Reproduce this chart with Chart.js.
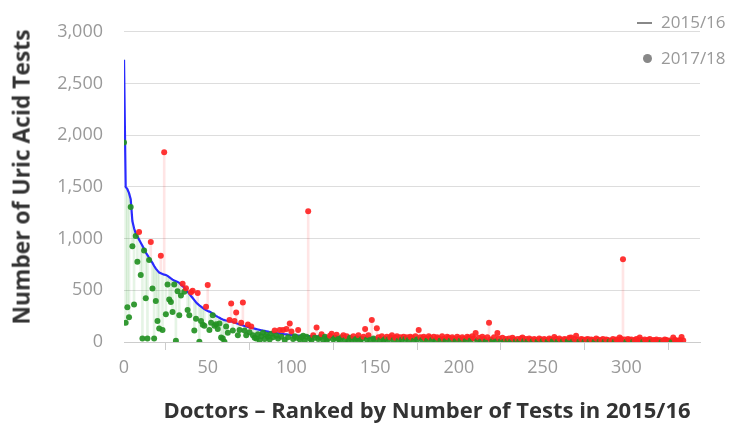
<!DOCTYPE html>
<html>
<head>
<meta charset="utf-8">
<script src="https://cdn.jsdelivr.net/npm/chart.js@4"></script>
<style>
html,body{margin:0;padding:0;background:#fff;}
#wrap{position:relative;width:748px;height:423px;}
#legend{position:absolute;left:0;top:0;font-family:'Open Sans',sans-serif;font-size:17px;color:#999;}
.dash{position:absolute;width:15px;height:2px;background:#888;}
.dot{position:absolute;width:9px;height:9px;border-radius:50%;background:#888;}
.lbl{position:absolute;line-height:24px;white-space:nowrap;}
.title{position:absolute;font-family:'Open Sans',sans-serif;font-weight:bold;color:#333;white-space:nowrap;line-height:1;}
#xt{left:427px;top:409px;font-size:22px;transform:translate(-50%,-50%);}
#yt{left:22px;top:177px;font-size:22.8px;transform:translate(-50%,-50%) rotate(-90deg);}
</style>
</head>
<body>
<div id="wrap">
<canvas id="c" width="748" height="423"></canvas>
<div id="legend"></div>
<div class="title" id="xt"></div>
<div class="title" id="yt"></div>
</div>
<script>
// ---- data ----
const seriesLabels = ['2015/16', '2017/18'];
const xTitle = 'Doctors \u2013 Ranked by Number of Tests in 2015/16';
const yTitle = 'Number of Uric Acid Tests';
const yTickStep = 500;
const xTickStep = 50;

// Tests per doctor in 2015/16 (doctors ranked by this value)
const tests2015 = [
2730,1500,1480,1440,1380,1170,1100,1050,1020,990,
960,930,900,865,840,815,790,765,735,710,
690,672,665,658,652,648,640,628,615,603,
595,588,580,572,555,540,526,505,485,465,
445,425,405,385,368,355,343,330,318,308,
300,294,285,275,262,252,243,235,225,218,
212,208,205,202,198,193,188,182,176,170,
165,160,155,150,145,141,137,133,129,125,
121,117,114,110,107,104,100,96,93,90,
88,85,83,81,79,77,75,73,71,69,
67,66,65,64,63,62,61,60,59,58,
57,57,56,56,55,55,54,54,53,53,
52,52,51,51,50,50,49,49,48,48,
47,47,46,46,45,45,44,44,43,43,
42,42,41,41,41,40,40,40,39,39,
39,38,38,38,37,37,37,36,36,36,
35,35,35,34,34,34,33,33,33,32,
32,32,31,31,31,30,30,30,29,29,
29,28,28,28,27,27,27,26,26,26,
25,25,25,25,24,24,24,24,23,23,
23,23,22,22,22,22,21,21,21,21,
20,20,20,20,19,19,19,19,18,18,
18,18,18,17,17,17,17,17,16,16,
16,16,16,15,15,15,15,15,14,14,
14,14,14,14,13,13,13,13,13,13,
12,12,12,12,12,12,11,11,11,11,
11,11,10,10,10,10,10,10,9,9,
9,9,9,9,9,8,8,8,8,8,
8,8,7,7,7,7,7,7,7,6,
6,6,6,6,6,6,5,5,5,5,
5,5,5,5,4,4,4,4,4,4,
4,3,3,3,3,3,3,3,3,2,
2,2,2,2,2,2,2,1,1,1,
1,1,1,1,1
];

// Tests per same doctor in 2017/18
const tests2017 = [
1930,185,337,240,1305,926,363,1025,775,1065,
649,34,886,424,34,794,967,517,34,397,
203,130,834,117,1835,268,557,410,388,289,
557,12,492,258,449,563,486,520,310,258,
480,496,111,224,474,3,203,166,157,342,
551,117,187,258,157,172,126,178,43,34,
3,150,90,212,372,111,203,286,65,117,
187,381,111,65,170,95,150,65,40,34,
75,20,55,90,30,70,50,25,80,45,
111,60,35,117,50,117,20,126,45,178,
102,30,55,40,117,25,45,60,15,50,
1265,35,20,65,40,141,30,45,74,20,
50,10,35,60,80,25,40,71,30,15,
45,65,20,55,10,40,30,55,20,35,
65,15,30,50,126,25,65,20,212,35,
10,132,45,20,55,15,30,50,25,45,
65,20,40,55,15,45,25,50,30,45,
20,50,40,15,55,25,117,45,20,50,
35,15,55,40,20,50,10,45,35,15,
55,30,10,50,40,15,45,30,10,50,
35,15,45,30,10,50,40,15,55,35,
86,10,40,5,50,30,8,45,187,25,
10,45,5,86,35,8,40,5,30,10,
35,5,40,25,8,30,5,35,43,10,
30,5,35,25,8,30,20,5,35,25,
10,30,20,5,35,25,8,49,30,5,
35,20,5,30,25,8,40,43,5,30,
60,20,5,30,25,3,25,30,5,25,
20,3,34,25,5,20,30,3,25,20,
5,15,30,2,25,20,43,30,800,25,
3,30,20,25,2,20,30,15,43,20,
2,25,15,20,30,1,20,15,25,10,
20,1,15,25,20,10,15,0,43,20,
15,10,20,49,15
];

// ---- styles ----
const BLUE = '#2a2aff';
const RED = 'rgba(255,35,35,0.92)';
const GREEN = 'rgba(35,145,35,0.92)';
const RED_LINK = 'rgba(255,0,0,0.10)';
const GREEN_LINK = 'rgba(0,150,0,0.10)';
const FONT = "'Open Sans', sans-serif";

const ranks = tests2015.map((_, i) => i);
const above = ranks.map(i => tests2017[i] > tests2015[i]);

// titles and legend (HTML text)
document.getElementById('xt').textContent = xTitle;
document.getElementById('yt').textContent = yTitle;
document.getElementById('legend').innerHTML =
  '<div class="dash" style="left:637px;top:22px"></div>' +
  '<div class="lbl" style="left:661px;top:10px">' + seriesLabels[0] + '</div>' +
  '<div class="dot" style="left:643px;top:54px"></div>' +
  '<div class="lbl" style="left:661px;top:46px">' + seriesLabels[1] + '</div>';

new Chart(document.getElementById('c').getContext('2d'), {
  type: 'scatter',
  data: {
    datasets: [
      {
        type: 'bar',
        label: 'change',
        data: ranks.map(i => ({ x: i, y: [tests2015[i], tests2017[i]] })),
        backgroundColor: above.map(a => a ? RED_LINK : GREEN_LINK),
        borderWidth: 0,
        barThickness: 2,
        grouped: false,
        order: 3
      },
      {
        type: 'line',
        label: seriesLabels[0],
        data: ranks.map(i => ({ x: i, y: tests2015[i] })),
        borderColor: BLUE,
        borderWidth: 2.2,
        pointRadius: 0,
        tension: 0,
        fill: false,
        order: 2
      },
      {
        type: 'scatter',
        label: seriesLabels[1],
        data: ranks.map(i => ({ x: i, y: tests2017[i] })),
        backgroundColor: above.map(a => a ? RED : GREEN),
        borderWidth: 0,
        pointRadius: 3,
        order: 1
      }
    ]
  },
  options: {
    responsive: false,
    animation: false,
    devicePixelRatio: 1,
    layout: { padding: { top: 17, right: 48, left: 0, bottom: 0 } },
    plugins: { legend: { display: false }, tooltip: { enabled: false } },
    scales: {
      x: {
        type: 'linear',
        min: 0,
        max: 344,
        offset: false,
        ticks: { stepSize: xTickStep, color: '#999', font: { family: FONT, size: 18 }, padding: 7, maxRotation: 0, autoSkip: false },
        grid: { drawOnChartArea: false, drawTicks: true, tickLength: 8, color: '#ccc' },
        border: { display: true, color: '#ccc' },
        title: { display: false },
        afterBuildTicks: s => { s.ticks = s.ticks.filter(t => t.value % xTickStep === 0); },
        afterFit: s => { s.height = 81; }
      },
      y: {
        min: 0,
        max: 3000,
        ticks: { stepSize: yTickStep, color: '#999', font: { family: FONT, size: 18 }, padding: 21, callback: v => v.toLocaleString('en-US') },
        grid: { color: '#ddd', drawTicks: false },
        border: { display: false },
        title: { display: false },
        afterFit: s => { s.width = 124; }
      }
    }
  }
});
</script>
</body>
</html>
